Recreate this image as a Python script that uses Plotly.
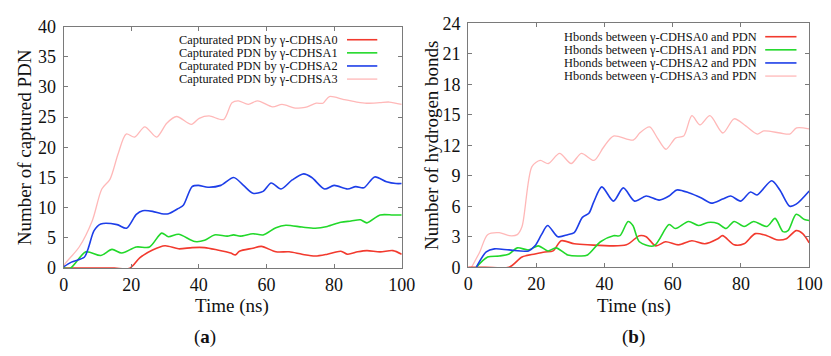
import plotly.graph_objects as go

# ---------------- Data (a): captured PDN ----------------
a0_x = [0, 5, 10, 15, 19.6, 22.5, 26.3, 30, 34, 38, 41.7, 45.5, 49.4, 50.8, 52, 56, 58.5, 62.8, 66.7, 70.5, 74.4, 78, 82, 84, 87, 89.7, 93.6, 97.4, 100]
a0_y = [0, 0, 0, 0, 0, 1.7, 3.0, 3.7, 3.2, 3.4, 3.4, 3.0, 2.5, 2.2, 2.8, 3.3, 3.6, 2.7, 2.7, 2.3, 2.0, 2.3, 2.8, 2.3, 2.7, 2.9, 2.7, 2.9, 2.3]

a1_x = [0, 2, 6.6, 11, 14.3, 17.2, 21.5, 25.4, 29, 31, 34, 38.8, 41.7, 44.6, 48.4, 50.3, 52.3, 56, 59, 62.8, 65.7, 70.5, 74.4, 78, 82, 85, 87.8, 89.7, 93.6, 97.4, 100]
a1_y = [0, 0, 2.7, 2.1, 3.1, 2.5, 3.5, 3.5, 5.8, 5.2, 5.6, 4.4, 4.6, 5.5, 5.3, 5.5, 5.3, 5.7, 5.5, 6.7, 7.1, 6.8, 6.6, 6.9, 7.6, 7.8, 8.0, 7.5, 8.8, 8.8, 8.8]

a2_x = [0, 2.3, 6.1, 7.3, 9, 11, 15.8, 18.6, 21.5, 23.4, 26.3, 29, 31, 34, 35.4, 38, 39.8, 42.7, 46.5, 50.3, 53.2, 56, 59, 61.4, 64.3, 67.6, 71, 73.4, 77.2, 80, 84, 86.4, 88.8, 92, 95.5, 98.3, 100]
a2_y = [0.2, 1.0, 1.8, 3.3, 6.2, 7.3, 7.2, 6.6, 8.9, 9.5, 9.4, 9.0, 9.0, 9.9, 10.4, 13.5, 13.7, 13.4, 13.7, 15.0, 13.7, 12.4, 12.7, 14.1, 13.1, 14.6, 15.6, 15.0, 13.1, 13.7, 13.1, 13.5, 13.3, 15.1, 14.3, 14.0, 14.0]

a3_x = [0, 0.3, 4.6, 8.5, 11.3, 13.7, 16.1, 18.5, 21, 24, 27.5, 30.5, 33.4, 37.8, 40.1, 43, 47.3, 49.8, 51.7, 54.6, 57.4, 61.8, 64.6, 68.5, 71.4, 74.7, 76.7, 78.6, 82.9, 86.7, 89.6, 93.5, 96.3, 100]
a3_y = [0, 0.6, 3.5, 7.9, 13.1, 14.7, 18.9, 22.2, 21.7, 23.4, 21.7, 24.0, 25.1, 23.8, 24.8, 25.2, 24.6, 27.4, 27.7, 27.1, 27.7, 26.7, 27.1, 26.5, 26.6, 27.3, 27.3, 28.4, 27.9, 27.5, 27.3, 27.4, 27.5, 27.1]

# ---------------- Data (b): hydrogen bonds ----------------
b0_x = [0, 5, 12, 15.8, 19.6, 22.5, 24.9, 27.3, 31.1, 35, 46.4, 50.2, 52.2, 55, 57.9, 61.7, 65.6, 69.4, 73.2, 74.6, 78, 80.9, 84.2, 87.6, 90.4, 93.3, 96.2, 98.1, 100]
b0_y = [0, 0, 0, 1.0, 1.3, 1.5, 1.6, 2.6, 2.3, 2.2, 2.2, 3.1, 3.0, 2.1, 2.5, 2.2, 2.6, 2.3, 2.8, 3.1, 2.2, 2.3, 3.3, 3.1, 2.7, 2.8, 3.6, 3.3, 2.4]

b1_x = [2.4, 5.7, 9.1, 12, 14.4, 17.7, 20.6, 23.4, 25.8, 29.2, 33, 35, 38.8, 42.6, 44.5, 46.9, 48.3, 50.2, 54.5, 58.9, 60.8, 64.6, 67.5, 70.3, 73.2, 75.6, 78, 80.9, 83.7, 87.6, 90, 92.3, 93.8, 96.2, 98.6, 100]
b1_y = [0, 1.0, 1.1, 1.3, 1.9, 1.7, 2.1, 1.6, 1.9, 1.2, 1.1, 1.2, 2.5, 3.1, 3.1, 4.5, 4.1, 2.5, 2.1, 4.2, 3.8, 4.5, 4.1, 4.4, 4.3, 3.8, 4.5, 4.0, 4.5, 4.0, 4.8, 3.5, 3.6, 5.2, 4.7, 4.6]

b2_x = [2.4, 5.3, 7.7, 12, 17.7, 19.6, 21.5, 23.3, 26.3, 29.2, 31.1, 33.5, 35.4, 36.8, 39.2, 42.6, 45.5, 48.8, 52.2, 56, 58.9, 61.2, 64.9, 68.4, 71.3, 74.6, 77, 79.9, 82.8, 84.7, 89, 91.4, 94.3, 96.2, 100]
b2_y = [0, 1.5, 1.8, 1.7, 1.6, 2.1, 3.2, 4.1, 3.0, 3.2, 3.4, 4.9, 5.3, 6.4, 7.9, 6.5, 7.8, 6.5, 7.0, 6.6, 7.0, 7.6, 7.3, 6.8, 6.3, 6.7, 7.0, 6.5, 7.4, 7.1, 8.5, 7.6, 6.0, 6.2, 7.5]

b3_x = [1, 3.4, 5.7, 9.1, 12, 14.4, 15.8, 18.7, 21.1, 23.5, 26.8, 30.2, 33.2, 36.9, 39.7, 42.6, 48.4, 50.3, 53.2, 55.5, 58, 60.8, 63.2, 65.6, 68, 70.9, 74.7, 78, 81.4, 84.8, 86.7, 91.5, 94.3, 96.3, 100]
b3_y = [0, 1.5, 3.2, 3.4, 3.1, 3.2, 4.0, 9.9, 10.5, 10.2, 11.2, 10.2, 11.2, 10.5, 11.8, 12.9, 12.5, 13.2, 13.8, 12.7, 11.6, 12.7, 12.9, 14.9, 14.0, 14.9, 13.2, 14.6, 13.9, 13.1, 13.4, 13.2, 13.1, 13.7, 13.6]

names_a = ["Capturated PDN by γ-CDHSA0", "Capturated PDN by γ-CDHSA1",
           "Capturated PDN by γ-CDHSA2", "Capturated PDN by γ-CDHSA3"]
names_b = ["Hbonds between γ-CDHSA0 and PDN", "Hbonds between γ-CDHSA1 and PDN",
           "Hbonds between γ-CDHSA2 and PDN", "Hbonds between γ-CDHSA3 and PDN"]
x_ticks = [0, 20, 40, 60, 80, 100]
ya_ticks = [0, 5, 10, 15, 20, 25, 30, 35, 40]
yb_ticks = [0, 3, 6, 9, 12, 15, 18, 21, 24]

colors = ["#f23a2e", "#22d82a", "#1d3ee8", "#ffb8b8"]
widths = [1.6, 1.6, 1.6, 1.3]
FONT = "'Liberation Serif', 'DejaVu Serif', serif"
W, H = 831, 356

fig = go.Figure()
series_a = [(a0_x, a0_y), (a1_x, a1_y), (a2_x, a2_y), (a3_x, a3_y)]
series_b = [(b0_x, b0_y), (b1_x, b1_y), (b2_x, b2_y), (b3_x, b3_y)]
order = [3, 0, 1, 2]
for i in order:
    xs, ys = series_a[i]
    fig.add_trace(go.Scatter(x=xs, y=ys, mode="lines", name=names_a[i], showlegend=False,
                             line=dict(color=colors[i], width=widths[i], shape="spline", smoothing=0.8),
                             xaxis="x", yaxis="y"))
for i in order:
    xs, ys = series_b[i]
    fig.add_trace(go.Scatter(x=xs, y=ys, mode="lines", name=names_b[i], showlegend=False,
                             line=dict(color=colors[i], width=widths[i], shape="spline", smoothing=0.8),
                             xaxis="x2", yaxis="y2"))

def px(x):
    return x / W

def py(y):
    return 1 - y / H

axis_common = dict(showline=True, linecolor="#7a7a7a", linewidth=1, mirror="ticks",
                   ticks="inside", ticklen=4, tickcolor="#7a7a7a", showgrid=False, zeroline=False,
                   tickfont=dict(family=FONT, size=18, color="#111"))

la = dict(x0=60, x1=406, y0=17.5, y1=273.5)
lb = dict(x0=474, x1=823, y0=14, y1=272.5)

fig.update_layout(
    width=W, height=H, margin=dict(l=0, r=0, t=0, b=0),
    font=dict(family=FONT),
    paper_bgcolor="white", plot_bgcolor="white", showlegend=False,
    xaxis=dict(domain=[px(la["x0"]), px(la["x1"])], range=[0, 100], tickvals=x_ticks, anchor="y", **axis_common),
    yaxis=dict(domain=[py(la["y1"]), py(la["y0"])], range=[0, 40], tickvals=ya_ticks, anchor="x",
               ticklabelstandoff=3, **axis_common),
    xaxis2=dict(domain=[px(lb["x0"]), px(lb["x1"])], range=[0, 100], tickvals=x_ticks, anchor="y2", **axis_common),
    yaxis2=dict(domain=[py(lb["y1"]), py(lb["y0"])], range=[0, 24], tickvals=yb_ticks, anchor="x2",
                ticklabelstandoff=3, **axis_common),
)

annotations = []
shapes = []

def text(x, y, s, size, **kw):
    annotations.append(dict(x=px(x), y=py(y), xref="paper", yref="paper", text=s, showarrow=False,
                            font=dict(family=FONT, size=size, color="#111"), **kw))

text(232, 314, "Time (ns)", 19, xanchor="center", yanchor="middle")
text(644, 314, "Time (ns)", 19, xanchor="center", yanchor="middle")
text(20, 146, "Number of captured PDN", 19, xanchor="center", yanchor="middle", textangle=-90)
text(437, 143, "Number of hydrogen bonds", 19, xanchor="center", yanchor="middle", textangle=-90)
text(205, 346, "(<b>a</b>)", 19, xanchor="center", yanchor="middle")
text(643, 346, "(<b>b</b>)", 19, xanchor="center", yanchor="middle")

# legends (gnuplot style: text then line sample)
leg_a_rows = [31.5, 45.4, 59.3, 73.2]
for i in range(4):
    text(343, leg_a_rows[i], names_a[i], 12.4, xanchor="right", yanchor="middle", height=14)
    shapes.append(dict(type="line", xref="paper", yref="paper", x0=px(350), x1=px(381),
                       y0=py(leg_a_rows[i]), y1=py(leg_a_rows[i]),
                       line=dict(color=colors[i], width=widths[i])))
leg_b_rows = [28.3, 42.2, 56.1, 70.0]
for i in range(4):
    text(772, leg_b_rows[i], names_b[i], 12.4, xanchor="right", yanchor="middle", height=14)
    shapes.append(dict(type="line", xref="paper", yref="paper", x0=px(778), x1=px(810),
                       y0=py(leg_b_rows[i]), y1=py(leg_b_rows[i]),
                       line=dict(color=colors[i], width=widths[i])))

fig.update_layout(annotations=annotations, shapes=shapes)
fig.write_html("out.html")
